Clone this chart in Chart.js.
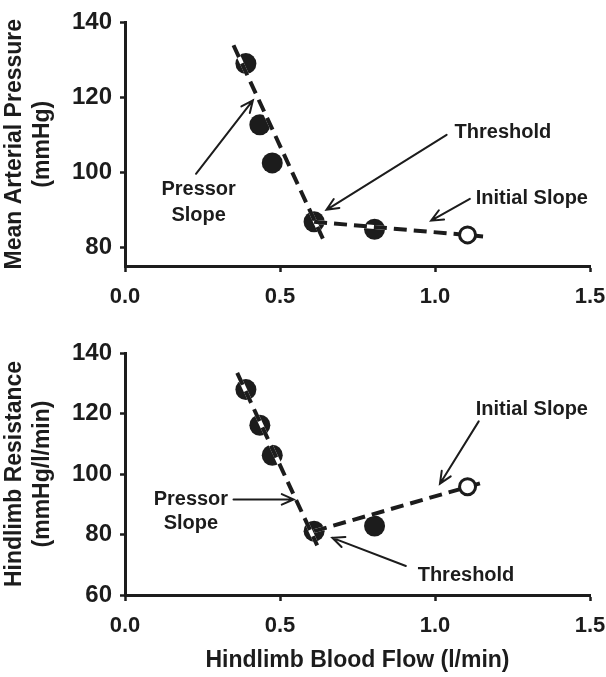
<!DOCTYPE html>
<html>
<head>
<meta charset="utf-8">
<script src="https://cdn.jsdelivr.net/npm/chart.js@4"></script>
<style>
  html, body { margin: 0; padding: 0; background: #fff; }
  canvas { display: block; }
</style>
</head>
<body>
<canvas id="mapChart" width="606" height="330"></canvas>
<canvas id="resChart" width="606" height="347"></canvas>
<script>
// hindlimb blood flow (l/min) for the five filled points
const flow = [0.39, 0.435, 0.475, 0.61, 0.805];
const pressure = [129, 112.7, 102.5, 86.8, 84.8];
const resistance = [127.9, 116.1, 106.2, 81.1, 82.8];

// open circle = baseline
const baselineFlow = [1.105];
const baselinePressure = [83.3];
const baselineResistance = [95.8];

// dashed fit lines (end points)
const mapPressorFlow = [0.35, 0.64];
const mapPressorFit = [133.9, 82.0];
const mapInitialFlow = [0.61, 1.155];
const mapInitialFit = [86.8, 82.9];

const resPressorFlow = [0.362, 0.62];
const resPressorFit = [133.4, 76.4];
const resInitialFlow = [0.61, 1.145];
const resInitialFit = [81.1, 96.9];

const xTicks = [0, 0.5, 1.0, 1.5];
const mapTicks = [80, 100, 120, 140];
const resTicks = [60, 80, 100, 120, 140];

const ink = '#1c1c1c';
Chart.defaults.font.family = '"Liberation Sans", Arial, sans-serif';
Chart.defaults.color = ink;

function pts(xs, ys) {
  return xs.map((x, i) => ({ x: x, y: ys[i] }));
}

function makeDatasets(ys, openY, pX, pY, iX, iY) {
  const dashed = (data) => ({
    data: data, showLine: true, pointRadius: 0, borderColor: ink,
    borderWidth: 4, borderDash: [13, 7], order: 1
  });
  const under = (data) => ({
    data: data, showLine: true, pointRadius: 0, borderColor: '#fff',
    borderWidth: 4, order: 2
  });
  return [
    { data: pts(flow, ys), pointRadius: 10.5, backgroundColor: ink, borderWidth: 0, order: 3 },
    under(pts(pX, pY)),
    under(pts(iX, iY)),
    dashed(pts(pX, pY)),
    dashed(pts(iX, iY)),
    { data: pts(baselineFlow, openY), pointRadius: 8, backgroundColor: '#fff',
      borderColor: ink, borderWidth: 3, order: 0 }
  ];
}

// text and arrows placed in data units
const mapNotes = {
  labels: [
    { text: 'Pressor', x: 0.2375, y: 95.3 },
    { text: 'Slope', x: 0.2375, y: 88.6 },
    { text: 'Threshold', x: 1.219, y: 110.7 },
    { text: 'Initial Slope', x: 1.3125, y: 93.0 }
  ],
  arrows: [
    { from: [0.229, 99.6], to: [0.4125, 119.2] },
    { from: [1.0375, 110.0], to: [0.65, 90.0] },
    { from: [1.1125, 92.9], to: [0.9875, 87.1] }
  ]
};
const resNotes = {
  labels: [
    { text: 'Initial Slope', x: 1.3125, y: 121.3 },
    { text: 'Pressor', x: 0.2125, y: 91.6 },
    { text: 'Slope', x: 0.2125, y: 83.6 },
    { text: 'Threshold', x: 1.1, y: 66.3 }
  ],
  arrows: [
    { from: [1.141, 117.4], to: [1.016, 96.8] },
    { from: [0.35, 91.6], to: [0.544, 91.6] },
    { from: [0.906, 69.6], to: [0.669, 78.9] }
  ]
};

const notesPlugin = {
  id: 'notes',
  afterDatasetsDraw(chart, args, opts) {
    const { ctx } = chart;
    const sx = chart.scales.x, sy = chart.scales.y;
    ctx.save();
    ctx.fillStyle = ink;
    ctx.strokeStyle = ink;
    ctx.font = 'bold 20px "Liberation Sans", Arial, sans-serif';
    ctx.textAlign = 'center';
    ctx.textBaseline = 'middle';
    opts.labels.forEach(l => {
      ctx.fillText(l.text, sx.getPixelForValue(l.x), sy.getPixelForValue(l.y));
    });
    ctx.lineWidth = 2;
    ctx.lineCap = 'round';
    opts.arrows.forEach(a => {
      const x0 = sx.getPixelForValue(a.from[0]), y0 = sy.getPixelForValue(a.from[1]);
      const x1 = sx.getPixelForValue(a.to[0]), y1 = sy.getPixelForValue(a.to[1]);
      const ang = Math.atan2(y1 - y0, x1 - x0);
      const h = 13;
      ctx.beginPath();
      ctx.moveTo(x0, y0);
      ctx.lineTo(x1, y1);
      ctx.moveTo(x1 - h * Math.cos(ang - 0.42), y1 - h * Math.sin(ang - 0.42));
      ctx.lineTo(x1, y1);
      ctx.lineTo(x1 - h * Math.cos(ang + 0.42), y1 - h * Math.sin(ang + 0.42));
      ctx.stroke();
    });
    ctx.restore();
  }
};

function makeScales(yMin, yTicks, yTitle, xTitle, xHeight) {
  return {
    x: {
      type: 'linear', min: 0, max: 1.5,
      afterBuildTicks: s => { s.ticks = xTicks.map(v => ({ value: v })); },
      afterFit: s => { s.height = xHeight; s.paddingRight = 16; s.paddingLeft = 0; },
      border: { display: true, color: ink, width: 3 },
      grid: { drawOnChartArea: false, drawTicks: true, tickLength: 6, tickWidth: 2.5, tickColor: ink },
      ticks: { color: ink, font: { size: 22, weight: 'bold' }, padding: 12, maxRotation: 0,
        callback: v => Number(v).toFixed(1) },
      title: xTitle ? {
        display: true, text: xTitle, color: ink,
        font: { size: 23, weight: 'bold' }, padding: { top: 0, bottom: 3 }
      } : { display: false }
    },
    y: {
      type: 'linear', min: yMin, max: 140,
      afterBuildTicks: s => { s.ticks = yTicks.map(v => ({ value: v })); },
      afterFit: s => { s.width = 125; },
      border: { display: true, color: ink, width: 3 },
      grid: { drawOnChartArea: false, drawTicks: true, tickLength: 5, tickWidth: 2.5, tickColor: ink },
      ticks: { color: ink, font: { size: 24, weight: 'bold' }, padding: 8 },
      title: {
        display: true, text: yTitle, color: ink,
        font: { size: 23, weight: 'bold', lineHeight: 1.25 }, padding: { top: 0, bottom: 0 }
      }
    }
  };
}

function makeChart(id, datasets, scales, notes, pad) {
  return new Chart(document.getElementById(id), {
    type: 'scatter',
    data: { datasets: datasets },
    options: {
      responsive: false,
      animation: false,
      layout: { padding: pad },
      scales: scales,
      plugins: { legend: { display: false }, tooltip: { enabled: false }, notes: notes }
    },
    plugins: [notesPlugin]
  });
}

makeChart('mapChart',
  makeDatasets(pressure, baselinePressure, mapPressorFlow, mapPressorFit, mapInitialFlow, mapInitialFit),
  makeScales(75, mapTicks, ['Mean Arterial Pressure', '(mmHg)'], null, 64),
  mapNotes,
  { top: 22, right: 16, left: 0, bottom: 0 });

makeChart('resChart',
  makeDatasets(resistance, baselineResistance, resPressorFlow, resPressorFit, resInitialFlow, resInitialFit),
  makeScales(60, resTicks, ['Hindlimb Resistance', '(mmHg/l/min)'], 'Hindlimb Blood Flow (l/min)', 82),
  resNotes,
  { top: 23, right: 16, left: 0, bottom: 0 });
</script>
</body>
</html>
